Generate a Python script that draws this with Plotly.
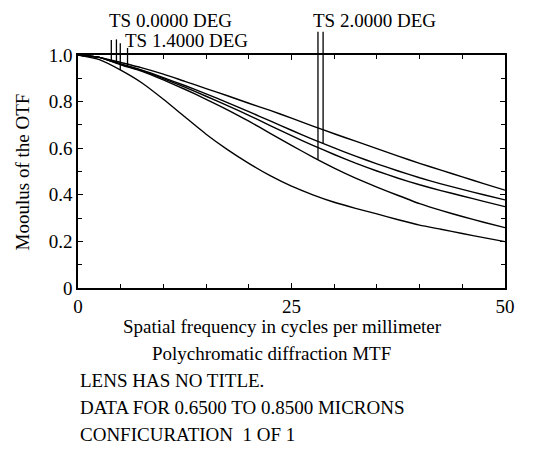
import numpy as np
import plotly.graph_objects as go

# ---- data ----
freq = [0, 2.5, 5, 7.5, 10, 12.5, 15, 17.5, 20, 22.5, 25, 27.5, 30, 32.5, 35, 37.5, 40, 42.5, 45, 47.5, 50]

mtf_1 = [1.0, 0.99, 0.968, 0.945, 0.918, 0.887, 0.856, 0.825, 0.793, 0.762, 0.729, 0.695, 0.662,
         0.63, 0.598, 0.566, 0.535, 0.506, 0.477, 0.448, 0.42]
mtf_2 = [1.0, 0.99, 0.962, 0.935, 0.903, 0.869, 0.833, 0.796, 0.757, 0.717, 0.677, 0.638, 0.601,
         0.566, 0.533, 0.502, 0.473, 0.447, 0.423, 0.40, 0.378]
mtf_3 = [1.0, 0.99, 0.96, 0.933, 0.899, 0.862, 0.823, 0.783, 0.741, 0.697, 0.654, 0.612, 0.573,
         0.536, 0.502, 0.471, 0.443, 0.418, 0.395, 0.372, 0.349]
mtf_4 = [1.0, 0.99, 0.958, 0.93, 0.893, 0.853, 0.81, 0.765, 0.716, 0.664, 0.612, 0.562, 0.515,
         0.472, 0.433, 0.397, 0.362, 0.333, 0.307, 0.282, 0.259]
mtf_5 = [1.0, 0.98, 0.935, 0.88, 0.81, 0.735, 0.66, 0.594, 0.535, 0.482, 0.437, 0.40, 0.368,
         0.342, 0.318, 0.293, 0.27, 0.252, 0.234, 0.216, 0.199]
curves = [mtf_1, mtf_2, mtf_3, mtf_4, mtf_5]

# label leader lines: frequency, curve index they point to, top (fraction of axis height)
leader_freq = [3.9, 4.5, 4.95, 5.8, 28.1, 28.7]
leader_curve = [0, 1, 4, 2, 3, 1]
leader_top = [1.064, 1.067, 1.05, 1.03, 1.10, 1.10]

labels = ["TS 0.0000 DEG", "TS 1.4000 DEG", "TS 2.0000 DEG"]

x_tickvals = [0, 25, 50]
x_ticktext = ["0", "25", "50"]
y_tickvals = [0, 0.2, 0.4, 0.6, 0.8, 1.0]
y_ticktext = ["0", "0.2", "0.4", "0.6", "0.8", "1.0"]

FONT = "Liberation Serif"
FS = 19

fig = go.Figure()
for c in curves:
    fig.add_trace(go.Scatter(x=freq, y=c, mode="lines",
                             line=dict(color="black", width=1.4, shape="spline", smoothing=0.5),
                             showlegend=False, hoverinfo="skip"))

shapes = []
for f, ci, top in zip(leader_freq, leader_curve, leader_top):
    bottom = float(np.interp(f, freq, curves[ci]))
    shapes.append(dict(type="line", xref="x", yref="paper", x0=f, x1=f, y0=bottom, y1=top,
                       line=dict(color="black", width=1.3)))

def txt(text, x, y, xanchor="left", angle=0):
    return dict(text=text, x=x, y=y, xref="paper", yref="paper", xanchor=xanchor, yanchor="middle",
                textangle=angle, showarrow=False, font=dict(family=FONT, size=FS, color="black"))

annotations = [
    txt(labels[0], 0.068, 1.150),
    txt(labels[1], 0.106, 1.064),
    txt(labels[2], 0.546, 1.150),
    txt("Mooulus of the OTF", -0.129, 0.50, "center", -90),
    txt("Spatial frequency in cycles per millimeter", 0.48, -0.167, "center"),
    txt("Polychromatic diffraction MTF", 0.452, -0.283, "center"),
    txt("LENS HAS NO TITLE.", 0.0, -0.395),
    txt("DATA FOR 0.6500 TO 0.8500 MICRONS", 0.0, -0.511),
    txt("CONFICURATION  1 OF 1", 0.0, -0.627),
]

fig.update_layout(
    width=535, height=449,
    margin=dict(l=78, r=30, t=55, b=161),
    paper_bgcolor="white", plot_bgcolor="white",
    font=dict(family=FONT, size=FS, color="black"),
    shapes=shapes, annotations=annotations,
    showlegend=False,
)
fig.update_xaxes(range=[0, 50], tickvals=x_tickvals, ticktext=x_ticktext,
                 ticks="inside", ticklen=5, tickwidth=1.2, tickcolor="black",
                 minor=dict(dtick=5, ticks="inside", ticklen=4, tickwidth=1, tickcolor="black"),
                 showline=True, linecolor="black", linewidth=1.5, mirror="ticks",
                 showgrid=False, zeroline=False, fixedrange=True)
fig.update_yaxes(range=[0, 1], tickvals=y_tickvals, ticktext=y_ticktext,
                 ticks="inside", ticklen=5, tickwidth=1.2, tickcolor="black",
                 minor=dict(dtick=0.1, ticks="inside", ticklen=4, tickwidth=1, tickcolor="black"),
                 showline=True, linecolor="black", linewidth=1.5, mirror="ticks",
                 showgrid=False, zeroline=False, fixedrange=True)

fig.write_html("out.html", config={"displayModeBar": False},
               post_script="document.body.style.margin='0';document.body.style.overflow='hidden';")
